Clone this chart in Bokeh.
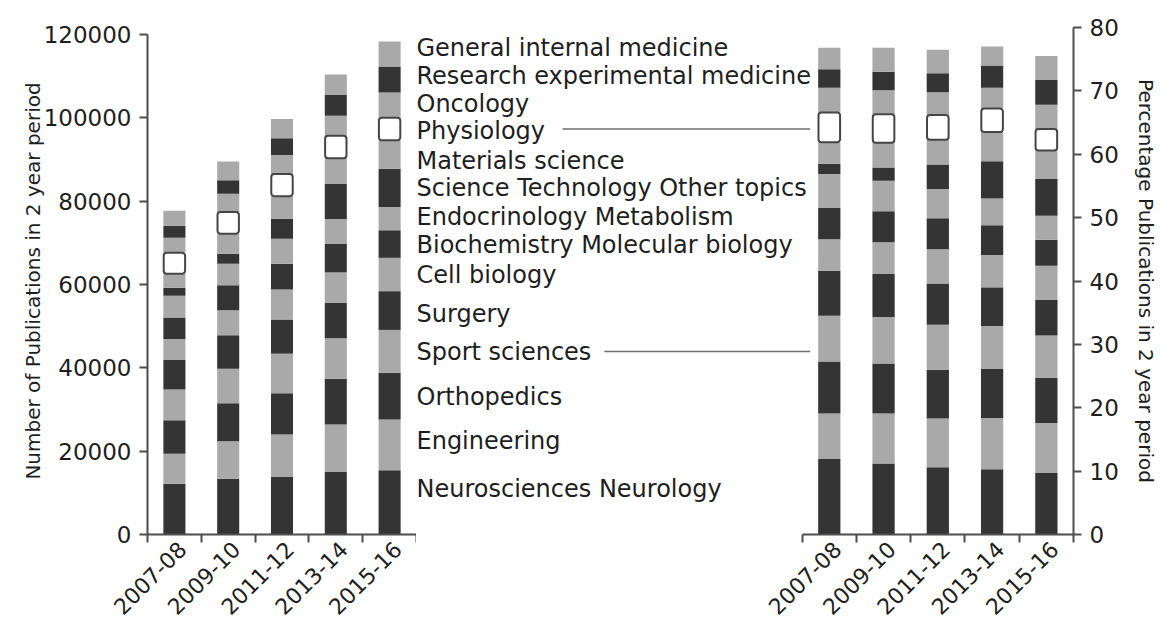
import math
import numpy as np
from bokeh.plotting import figure
from bokeh.layouts import row
from bokeh.models import Range1d, FixedTicker, NumeralTickFormatter, ColumnDataSource, CustomJSTickFormatter
from bokeh.core.properties import value
from bokeh.embed import file_html
from bokeh.resources import INLINE

# ---------------- data ----------------
periods = ["2007-08", "2009-10", "2011-12", "2013-14", "2015-16"]

# categories from the bottom of each stack to the top
categories = [
    "Neurosciences Neurology",
    "Engineering",
    "Orthopedics",
    "Sport sciences",
    "Surgery",
    "Cell biology",
    "Biochemistry Molecular biology",
    "Endocrinology  Metabolism",
    "Science Technology Other topics",
    "Materials science",
    "Physiology",
    "Oncology",
    "Research experimental medicine",
    "General internal medicine",
]

# number of publications per category (same order as categories)
counts_2007_08 = [12200, 7200, 8000, 7400, 7100, 5000, 5200, 5200, 1900, 3400, 5000, 3600, 2900, 3600]
counts_2009_10 = [13400, 9000, 9100, 8300, 8000, 6000, 6000, 5200, 2400, 4800, 5200, 4400, 3200, 4500]
counts_2011_12 = [13800, 10200, 9900, 9500, 8200, 7200, 6200, 6000, 4800, 5400, 5300, 4600, 4000, 4600]
counts_2013_14 = [15000, 11400, 11000, 9700, 8500, 7300, 6800, 6000, 8400, 6200, 5400, 4800, 5000, 4900]
counts_2015_16 = [15400, 12200, 11200, 10300, 9300, 8000, 6600, 5600, 9200, 6800, 5400, 6100, 6200, 6000]

# percentage of publications per category (same order as categories)
pct_2007_08 = [11.9, 7.2, 8.2, 7.2, 7.1, 5.0, 4.9, 5.4, 1.6, 3.4, 4.7, 3.9, 2.9, 3.4]
pct_2009_10 = [11.2, 7.9, 7.9, 7.3, 6.8, 5.0, 4.9, 4.8, 2.1, 3.9, 4.5, 3.8, 2.9, 3.8]
pct_2011_12 = [10.6, 7.7, 7.7, 7.1, 6.5, 5.4, 4.9, 4.6, 3.9, 3.9, 3.9, 3.6, 3.0, 3.7]
pct_2013_14 = [10.3, 8.1, 7.7, 6.8, 6.1, 5.1, 4.7, 4.2, 5.9, 4.6, 3.7, 3.3, 3.5, 3.0]
pct_2015_16 = [9.7, 7.9, 7.1, 6.7, 5.6, 5.4, 4.1, 3.8, 5.8, 4.5, 3.4, 3.8, 3.9, 3.8]

left_ticks = [0, 20000, 40000, 60000, 80000, 100000, 120000]
right_ticks = [0, 10, 20, 30, 40, 50, 60, 70, 80]
highlighted = ["Physiology"]
leader_labels = ["Physiology", "Sport sciences"]

counts = np.array([counts_2007_08, counts_2009_10, counts_2011_12, counts_2013_14, counts_2015_16], dtype=float)
pcts = np.array([pct_2007_08, pct_2009_10, pct_2011_12, pct_2013_14, pct_2015_16], dtype=float)

# ---------------- style / layout ----------------
DARK = "#343434"
LIGHT = "#a9a9a9"
AXIS = "#4d4d4d"
TEXT = "#1e1e1e"
FONT = "DejaVu Sans"
H = 626
TOP, BOTTOM = 27, 92          # frame from y=27 to y=534
LEFT_AXIS_TOP_PX = 34         # where the left axis' top tick (120000) sits
W_LEFT, W_RIGHT = 416, 744
BORDER_L, BORDER_R = 147, 83
BAR_W = 0.41
UNIT_R = 54.6                 # screen px per period in the right panel
LABEL_FS = "24px"
XLABEL_SHIFT = 0.15           # rotated period labels sit slightly right of bar centre

# label nudges (screen px) and leader line extents (screen px from panel's left edge)
label_nudge = [-13, -4, 1, 1, 3, 0, 1, -2, 0, 6, 2, -1, -4, -6]
leader_start = {"Physiology": 147, "Sport sciences": 189}
leader_end = 396

n = len(periods)
xs = [float(i) for i in range(n)]
bounds = [i - 0.5 for i in range(n + 1)]
frame_h = H - TOP - BOTTOM
counts_top = left_ticks[-1] * frame_h / (frame_h - (LEFT_AXIS_TOP_PX - TOP))


def draw_stack(p, table):
    bottoms = np.zeros(n)
    later = []
    for j, cat in enumerate(categories):
        tops = bottoms + table[:, j]
        if cat in highlighted:
            later.append((bottoms.copy(), tops.copy()))
        else:
            p.vbar(x=xs, bottom=list(bottoms), top=list(tops), width=BAR_W,
                   fill_color=DARK if j % 2 == 0 else LIGHT, line_color=None)
        bottoms = tops
    for b, t in later:
        p.vbar(x=xs, bottom=list(b), top=list(t), width=BAR_W * 0.97,
               fill_color="white", line_color="#454545", line_width=2, border_radius=3)


def style_common(p):
    p.outline_line_color = None
    p.xgrid.visible = False
    p.ygrid.visible = False
    p.background_fill_color = "white"
    p.border_fill_color = "white"
    ax = p.xaxis[0]
    ax.ticker = FixedTicker(ticks=[x + XLABEL_SHIFT for x in xs], minor_ticks=bounds)
    ax.bounds = (-0.5, n - 0.5)
    ax.formatter = CustomJSTickFormatter(args=dict(labels=periods),
                                         code="const i = Math.round(tick - 0.15); return labels[i] || '';")
    ax.major_tick_out = 0
    ax.major_tick_in = 0
    ax.minor_tick_out = 8
    ax.minor_tick_in = 0
    ax.minor_tick_line_color = AXIS
    ax.minor_tick_line_width = 2
    ax.axis_line_color = AXIS
    ax.axis_line_width = 2
    ax.major_label_orientation = math.pi / 4
    ax.major_label_standoff = 3
    ax.major_label_text_font = FONT
    ax.major_label_text_font_size = "22px"
    ax.major_label_text_color = TEXT
    ay = p.yaxis[0]
    ay.minor_tick_line_color = None
    ay.major_tick_out = 8
    ay.major_tick_in = 0
    ay.major_tick_line_color = AXIS
    ay.major_tick_line_width = 2
    ay.axis_line_color = AXIS
    ay.axis_line_width = 2
    ay.major_label_standoff = 8
    ay.major_label_text_font = FONT
    ay.major_label_text_font_size = "23px"
    ay.major_label_text_color = TEXT
    ay.axis_label_text_font = FONT
    ay.axis_label_text_font_size = "20px"
    ay.axis_label_text_font_style = "normal"
    ay.axis_label_text_color = TEXT


# ---------------- left panel: counts ----------------
left = figure(width=W_LEFT, height=H, output_backend="svg", toolbar_location=None,
              x_range=Range1d(-0.5, n - 0.5), y_range=Range1d(0, counts_top),
              min_border_left=BORDER_L, min_border_right=0, min_border_top=TOP,
              min_border_bottom=BOTTOM)
draw_stack(left, counts)
style_common(left)
left.yaxis[0].ticker = FixedTicker(ticks=left_ticks)
left.yaxis[0].bounds = (0, left_ticks[-1])
left.yaxis[0].formatter = NumeralTickFormatter(format="0")
left.yaxis[0].axis_label = "Number of Publications in 2 year period"
left.yaxis[0].axis_label_standoff = -4

# ---------------- right panel: category labels + percentages ----------------
frame_w_r = W_RIGHT - BORDER_R
x_end = n - 0.5
x_start = x_end - frame_w_r / UNIT_R

right = figure(width=W_RIGHT, height=H, output_backend="svg", toolbar_location=None,
               x_range=Range1d(x_start, x_end), y_range=Range1d(0, right_ticks[-1]),
               y_axis_location="right",
               min_border_left=0, min_border_right=BORDER_R, min_border_top=TOP,
               min_border_bottom=BOTTOM)
right.extra_y_ranges = {"counts": Range1d(0, counts_top)}
draw_stack(right, pcts)
style_common(right)
right.yaxis[0].ticker = FixedTicker(ticks=right_ticks)
right.yaxis[0].axis_label = "Percentage Publications in 2 year period"
right.yaxis[0].axis_label_standoff = 12

last = counts[-1]
mids = list(np.cumsum(last) - last / 2.0)
src = ColumnDataSource(dict(x=[x_start] * len(categories), y=mids, text=categories, dy=label_nudge))
right.text(x="x", y="y", text="text", y_offset="dy", source=src, y_range_name="counts",
           text_font=value(FONT), text_font_size=value(LABEL_FS),
           text_color=TEXT, text_baseline="middle", text_align="left")
for name in leader_labels:
    j = categories.index(name)
    yy = mids[j]
    right.segment(x0=[x_start + leader_start[name] / UNIT_R], x1=[x_start + leader_end / UNIT_R],
                  y0=[yy], y1=[yy], y_range_name="counts",
                  line_color="#6e6e6e", line_width=1.5)

layout = row(left, right)
open("out.html", "w").write(file_html(layout, INLINE))
